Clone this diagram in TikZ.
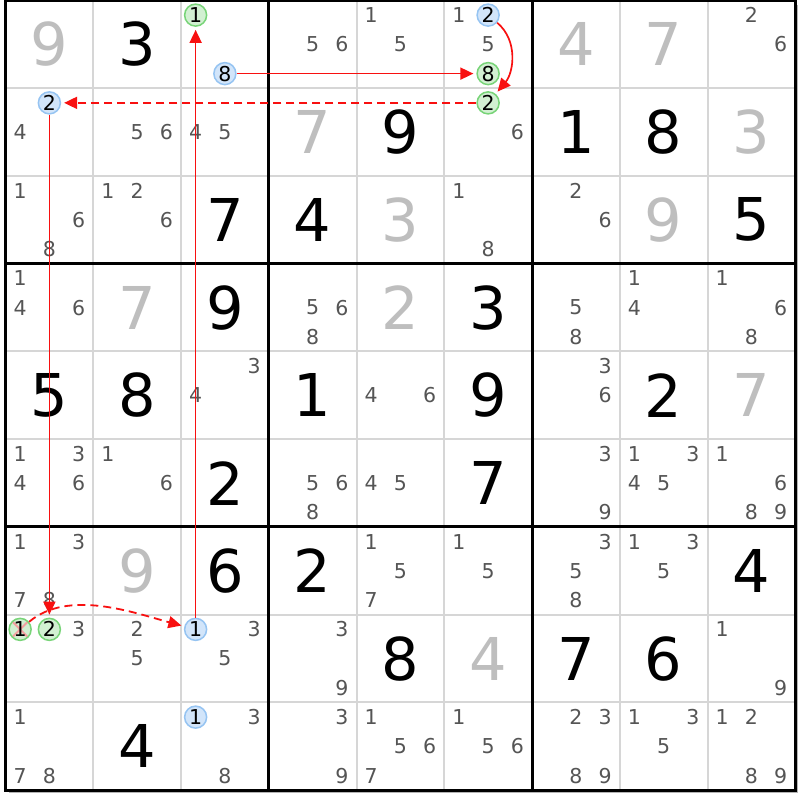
\documentclass[tikz,border=0pt]{standalone}
\usepackage{fontspec}
\setmainfont{DejaVu Sans}
\usetikzlibrary{arrows.meta}
\definecolor{candcol}{HTML}{555555}
\definecolor{givcol}{HTML}{BEBEBE}
\definecolor{thincol}{HTML}{D6D6D6}
\definecolor{gfill}{HTML}{D2F0D2}
\definecolor{gdraw}{HTML}{78D478}
\definecolor{bfill}{HTML}{D2E5FA}
\definecolor{bdraw}{HTML}{96C4F2}
\definecolor{arrred}{HTML}{F81010}
\definecolor{xcol}{HTML}{F4A0A0}
\definecolor{shadowcol}{HTML}{B4B4B4}
\newcommand\candi[4][]{%
  \pgfmathsetmacro\cxx{5.5+87.75*(#3-0.5)+29.25*(mod(#4-1,3)-1)}%
  \pgfmathsetmacro\cyy{799.5-87.75*(#2-0.5)-29.25*(floor((#4-1)/3)-1)}%
  \node[cand,#1] (n#2#3#4) at (\cxx,\cyy) {#4};}
\newcommand\cands[3]{\foreach \dd in {#3}{\candi{#1}{#2}{\dd}}}
\newcommand\givenD[4]{%
  \node[bigd,text=#4] (g#1#2) at ({5.5+87.75*(#2-0.5)},{799.5-87.75*(#1-0.5)}) {#3};}
\begin{document}
\begin{tikzpicture}[x=1pt,y=1pt,
  cand/.style={inner sep=0pt,text=candcol,font=\fontsize{20.5}{20.5}\selectfont},
  bigd/.style={inner sep=0pt,font=\fontsize{59}{59}\selectfont},
  hlg/.style={circle,minimum size=22pt,fill=gfill,draw=gdraw,line width=1.5pt,text=black},
  hlb/.style={circle,minimum size=22pt,fill=bfill,draw=bdraw,line width=1.5pt,text=black},
  xcross/.style={path picture={\draw[xcol,line width=2pt]
     (path picture bounding box.south west) -- (path picture bounding box.north east)
     (path picture bounding box.north west) -- (path picture bounding box.south east);}},
  thinline/.style={draw=thincol,line width=2pt},
  thickline/.style={draw=black,line width=3pt},
  arr/.style={draw=arrred,line width=1.7pt,-{Triangle[length=13pt,width=12pt]},shorten >=3pt},
  dashline/.style={line width=1.8pt,dash pattern=on 8pt off 5pt}]
\fill[white] (0,0) rectangle (800,800);
\useasboundingbox (0,0) rectangle (800,800);
% shadow
\draw[shadowcol,line width=1.2pt] (797.6,795) -- (797.6,7.4) -- (9,7.4);
% thin grid lines
\foreach \i in {1,2,4,5,7,8}{
  \draw[thinline] ({5.5+87.75*\i},9.75) -- ({5.5+87.75*\i},799.5);
  \draw[thinline] (5.5,{799.5-87.75*\i}) -- (795.25,{799.5-87.75*\i});
}
% thick grid lines
\foreach \i in {3,6}{
  \draw[thickline] ({5.5+87.75*\i},9.75) -- ({5.5+87.75*\i},799.5);
  \draw[thickline] (5.5,{799.5-87.75*\i}) -- (795.25,{799.5-87.75*\i});
}
\draw[thickline] (5.5,9.75) rectangle (795.25,799.5);
% big digits
\foreach \r/\c/\d/\s in {1/1/9/givcol,1/2/3/black,1/7/4/givcol,1/8/7/givcol,
  2/4/7/givcol,2/5/9/black,2/7/1/black,2/8/8/black,2/9/3/givcol,
  3/3/7/black,3/4/4/black,3/5/3/givcol,3/8/9/givcol,3/9/5/black,
  4/2/7/givcol,4/3/9/black,4/5/2/givcol,4/6/3/black,
  5/1/5/black,5/2/8/black,5/4/1/black,5/6/9/black,5/8/2/black,5/9/7/givcol,
  6/3/2/black,6/6/7/black,
  7/2/9/givcol,7/3/6/black,7/4/2/black,7/9/4/black,
  8/5/8/black,8/6/4/givcol,8/7/7/black,8/8/6/black,
  9/2/4/black}{\givenD{\r}{\c}{\d}{\s}}
% candidates
\candi[hlg]{1}{3}{1}\candi[hlb]{1}{3}{8}
\cands{1}{4}{5,6}
\cands{1}{5}{1,5}
\candi{1}{6}{1}\candi[hlb]{1}{6}{2}\candi{1}{6}{5}\candi[hlg]{1}{6}{8}
\cands{1}{9}{2,6}
\candi[hlb]{2}{1}{2}\candi{2}{1}{4}
\cands{2}{2}{5,6}
\cands{2}{3}{4,5}
\candi[hlg]{2}{6}{2}\candi{2}{6}{6}
\cands{3}{1}{1,6,8}
\cands{3}{2}{1,2,6}
\cands{3}{6}{1,8}
\cands{3}{7}{2,6}
\cands{4}{1}{1,4,6}
\cands{4}{4}{5,6,8}
\cands{4}{7}{5,8}
\cands{4}{8}{1,4}
\cands{4}{9}{1,6,8}
\cands{5}{3}{3,4}
\cands{5}{5}{4,6}
\cands{5}{7}{3,6}
\cands{6}{1}{1,3,4,6}
\cands{6}{2}{1,6}
\cands{6}{4}{5,6,8}
\cands{6}{5}{4,5}
\cands{6}{7}{3,9}
\cands{6}{8}{1,3,4,5}
\cands{6}{9}{1,6,8,9}
\cands{7}{1}{1,3,7,8}
\cands{7}{5}{1,5,7}
\cands{7}{6}{1,5}
\cands{7}{7}{3,5,8}
\cands{7}{8}{1,3,5}
\candi[hlg,xcross]{8}{1}{1}\candi[hlg]{8}{1}{2}\candi{8}{1}{3}
\cands{8}{2}{2,5}
\candi[hlb]{8}{3}{1}\candi{8}{3}{3}\candi{8}{3}{5}
\cands{8}{4}{3,9}
\cands{8}{9}{1,9}
\cands{9}{1}{1,7,8}
\candi[hlb]{9}{3}{1}\candi{9}{3}{3}\candi{9}{3}{8}
\cands{9}{4}{3,9}
\cands{9}{5}{1,5,6,7}
\cands{9}{6}{1,5,6}
\cands{9}{7}{2,3,8,9}
\cands{9}{8}{1,3,5}
\cands{9}{9}{1,2,8,9}
% connectors
\draw[arr] (n831) -- (n131);
\draw[arr] (n138) -- (n168);
\draw[arr] (n162) to[out=-40,in=50,looseness=1.0] (n262);
\draw[arr,dashline] (n262) -- (n212);
\draw[arr] (n212) -- (n812);
\draw[arr,dashline] (n811) to[out=40,in=165,looseness=0.85] (n831);
\end{tikzpicture}
\end{document}
